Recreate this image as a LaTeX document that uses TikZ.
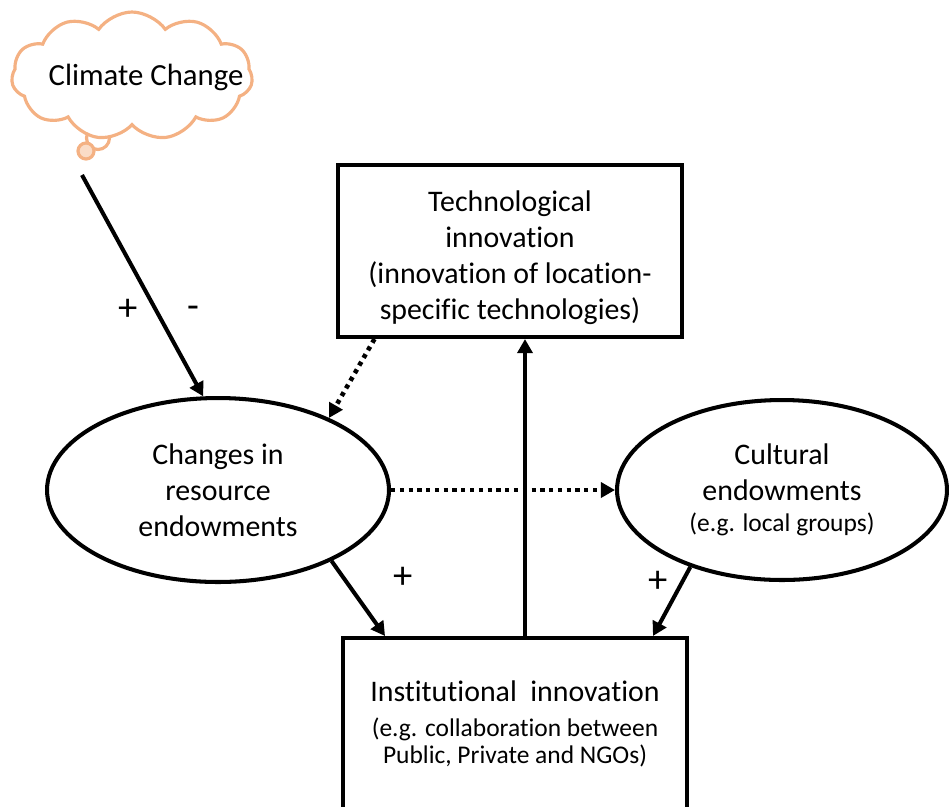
\documentclass[tikz,border=0pt]{standalone}
\usepackage{fontspec}
\setmainfont[Ligatures=NoCommon]{Carlito}
\usetikzlibrary{positioning,arrows.meta,shapes.symbols,shapes.geometric}
\definecolor{cloudorange}{HTML}{F4B183}
\newcommand{\subtxt}{\fontsize{14.5}{16}\selectfont}

\begin{document}
\begin{tikzpicture}[x=0.02cm, y=-0.02cm, >={Triangle[length=8pt,width=8.5pt]},
    line width=2.3pt, font=\fontsize{17}{20.5}\selectfont,
    box/.style={draw, rectangle, minimum width=6.88cm, minimum height=3.44cm, inner sep=0pt, align=center},
    blob/.style={draw, ellipse, inner sep=0pt, align=center},
    puff/.style={draw=cloudorange, line width=1.8pt, inner sep=0pt},
    sign/.style={font=\fontsize{22}{24}\selectfont},
    dotarr/.style={->, line width=2.6pt, dash pattern=on 2.4pt off 2.6pt}]
    \clip (0,0) rectangle (949,806);

    % Climate change cloud
    \node[puff, circle, fill=white, minimum size=0.46cm] (tail_big) at (98,138) {};
    \node[puff, circle, fill=cloudorange!45, minimum size=0.32cm] (tail_small) at (86,151) {};
    \node[puff, cloud, fill=white, cloud puffs=11, cloud puff arc=110, aspect=1.9,
          minimum width=4.82cm, minimum height=2.56cm] (climate_cloud) at (132,76) {};
    \node[font=\fontsize{17.5}{20}\selectfont] (climate_txt) at (146,77) {Climate Change};
    \coordinate (climate_out) at (82,175);

    % boxes
    \node[box] (tech) at (510,251) {\rule{0pt}{19pt}Technological\\innovation\\(innovation of location-\\specific technologies)};
    \node[box] (inst) at (515,724) {Institutional~~innovation\\[-1pt]
        \subtxt (e.g. collaboration between\\[-5pt]\subtxt Public, Private and NGOs)};

    % endowments
    \node[blob, minimum width=6.84cm, minimum height=3.68cm] (changes) at (218,490) {Changes in\\resource\\endowments};
    \node[blob, minimum width=6.6cm, minimum height=3.6cm] (cultural) at (782,490) {Cultural\\endowments\\[-3pt]\subtxt (e.g. local groups)};

    % connectors
    \draw[->] (climate_out) -- (changes.99);
    \draw[dotarr] (tech.213) -- (changes.33);
    \draw[dotarr] (changes.east) -- (cultural.west);
    \draw[->] ([xshift=0.2cm]inst.north) -- ([xshift=0.2cm]inst.north |- tech.south);
    \draw[->] (changes.-32) -- ([xshift=-2.6cm]inst.north);
    \draw[->] (cultural.220) -- ([xshift=2.76cm]inst.north);

    % signs
    \node[sign] (plus_cc) at (128,310) {+};
    \node[sign] (minus_cc) at (193,312) {-};
    \node[sign] (plus_ch) at (403,578) {+};
    \node[sign] (plus_cu) at (658,582) {+};
\end{tikzpicture}
\end{document}
